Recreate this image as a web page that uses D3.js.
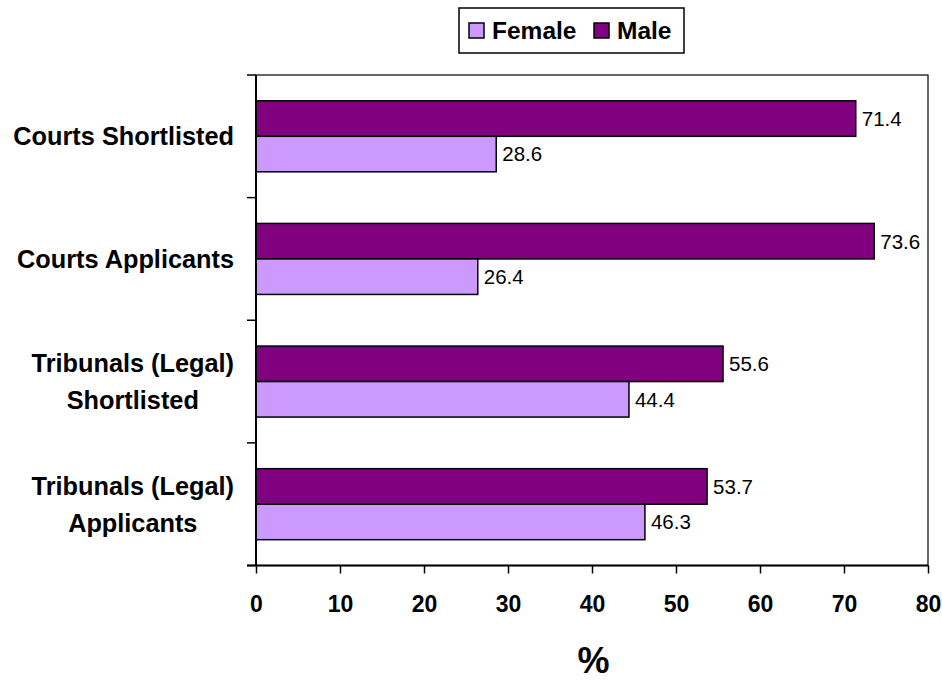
<!DOCTYPE html>
<html><head><meta charset="utf-8">
<script src="https://cdn.jsdelivr.net/npm/d3@7"></script>
<style>body{margin:0;background:#fff;} text{font-family:Arial,"Liberation Sans",sans-serif;}</style>
</head><body>
<svg id="c" width="942" height="680"></svg>
<script>
const categories = [["Courts Shortlisted"],["Courts Applicants"],["Tribunals (Legal)","Shortlisted"],["Tribunals (Legal)","Applicants"]];
const maleValues = [71.4, 73.6, 55.6, 53.7];
const femaleValues = [28.6, 26.4, 44.4, 46.3];
const xTicks = [0,10,20,30,40,50,60,70,80];
const seriesNames = ["Female","Male"];
const colors = {Female:"#CC99FF", Male:"#800080"};

const svg = d3.select("#c");
const L = 256, R = 928, T = 75, B = 565.5;
const x = d3.scaleLinear().domain([0,80]).range([L,R]);
const y = d3.scaleBand().domain(d3.range(categories.length)).range([T,B]);
const bw = y.bandwidth();
const barH = 35.5, off = (bw - 2*barH)/2;

// plot border
svg.append("rect").attr("x",L).attr("y",T).attr("width",R-L).attr("height",B-T)
  .attr("fill","none").attr("stroke","#000").attr("stroke-width",1.2);

// bars
categories.forEach((c,i)=>{
  const y0 = y(i)+off;
  [["Male",maleValues[i],y0],["Female",femaleValues[i],y0+barH]].forEach(([s,v,yy])=>{
    svg.append("rect").attr("x",x(0)).attr("y",yy).attr("width",x(v)-x(0)).attr("height",barH)
      .attr("fill",colors[s]).attr("stroke","#000").attr("stroke-width",1.5);
    svg.append("text").attr("x",x(v)+6).attr("y",yy+barH/2).attr("dy","0.36em")
      .attr("font-size",20.5).attr("fill","#000").text(v.toFixed(1));
  });
});

// x axis
const xa = svg.append("g").attr("transform",`translate(0,${B})`)
  .call(d3.axisBottom(x).tickValues(xTicks).tickSize(8).tickPadding(22).tickFormat(d3.format("d")));
xa.select(".domain").attr("stroke","#000").attr("stroke-width",2).attr("d",`M${L-9},0H${R}`);
xa.selectAll(".tick line").attr("stroke","#000").attr("stroke-width",1.5);
xa.selectAll(".tick text").attr("font-size",23).attr("font-weight","bold").attr("fill","#000")
  .attr("font-family","Arial,'Liberation Sans',sans-serif");

// y axis line & ticks at band boundaries
svg.append("line").attr("x1",L).attr("x2",L).attr("y1",T).attr("y2",B).attr("stroke","#000").attr("stroke-width",2);
d3.range(categories.length+1).forEach(i=>{
  const yy = T + i*bw;
  svg.append("line").attr("x1",L-9).attr("x2",L).attr("y1",yy).attr("y2",yy).attr("stroke","#000").attr("stroke-width",1.5);
});

// category labels
categories.forEach((lines,i)=>{
  const cy = y(i)+bw/2;
  const lh = 37;
  const g = svg.append("g");
  const texts = lines.map((ln,k)=> g.append("text")
      .attr("y", cy + (k - (lines.length-1)/2)*lh).attr("dy","0.36em")
      .attr("font-size",25.3).attr("font-weight","bold").attr("fill","#000")
      .attr("text-anchor","middle").text(ln));
  const maxW = d3.max(texts, t=>t.node().getComputedTextLength());
  texts.forEach(t=>t.attr("x", 234 - maxW/2));
});

// axis title
svg.append("text").attr("x",593.5).attr("y",673).attr("text-anchor","middle")
  .attr("font-size",36).attr("font-weight","bold").attr("fill","#000").text("%");

// legend
const lg = svg.append("g");
lg.append("rect").attr("x",459).attr("y",8).attr("width",225).attr("height",45)
  .attr("fill","#fff").attr("stroke","#000").attr("stroke-width",1.5);
const legendItems = [{name:"Female",sx:469,tx:492},{name:"Male",sx:594,tx:617}];
legendItems.forEach(d=>{
  lg.append("rect").attr("x",d.sx).attr("y",23).attr("width",15).attr("height",15)
    .attr("fill",colors[d.name]).attr("stroke","#000").attr("stroke-width",1.5);
  lg.append("text").attr("x",d.tx).attr("y",30.5).attr("dy","0.36em")
    .attr("font-size",24.5).attr("font-weight","bold").attr("fill","#000").text(d.name);
});
</script>
</body></html>
